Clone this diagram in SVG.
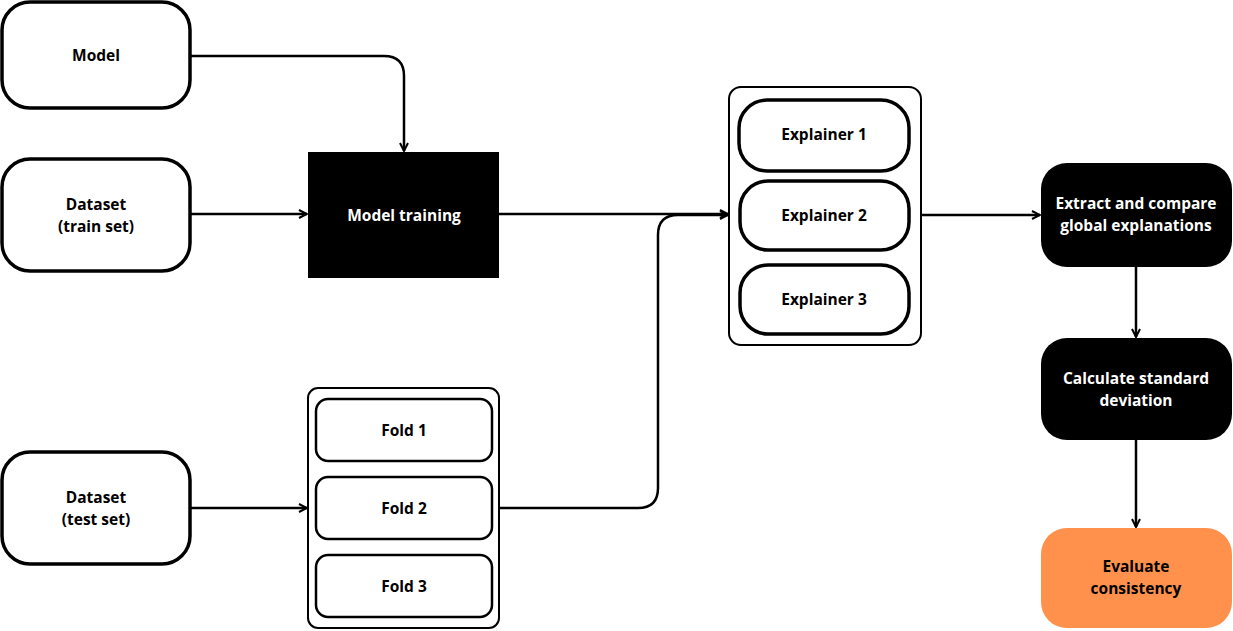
<svg xmlns="http://www.w3.org/2000/svg" width="1233" height="631" viewBox="0 0 1233 631">
<defs>
<marker id="arr" viewBox="0 0 10 10" refX="9" refY="5" markerWidth="10" markerHeight="10" markerUnits="userSpaceOnUse" orient="auto">
<path d="M1,1 L9,5 L1,9" fill="none" stroke="#000" stroke-width="2"/>
</marker>
<style>
.t{font-family:"Open Sans","Liberation Sans",sans-serif;font-weight:700;font-size:15.5px;text-anchor:middle;fill:#000}
.w{fill:#fff}
.box{fill:#fff;stroke:#000;stroke-width:3.5}
.cont{fill:#fff;stroke:#000;stroke-width:2}
.inner{fill:#fff;stroke:#000;stroke-width:2.5}
.c{fill:none;stroke:#000;stroke-width:2.5}
</style>
</defs>
<rect width="1233" height="631" fill="#fff"/>
<g id="connectors">
<path class="c" d="M190,56 H384 Q404,56 404,76 V151" marker-end="url(#arr)"/>
<path class="c" d="M190,214 H307" marker-end="url(#arr)"/>
<path class="c" d="M499,214 H728" marker-end="url(#arr)"/>
<path class="c" d="M190,508 H307" marker-end="url(#arr)"/>
<path class="c" d="M499,508 H638 Q658,508 658,488 V235 Q658,215 678,215 H728" marker-end="url(#arr)"/>
<path class="c" d="M921,215 H1040" marker-end="url(#arr)"/>
<path class="c" d="M1136,267 V337" marker-end="url(#arr)"/>
<path class="c" d="M1136,440 V527" marker-end="url(#arr)"/>
</g>
<g id="model"><rect class="box" x="2" y="2" width="188" height="106" rx="28"/><text class="t" x="96" y="61">Model</text></g>
<g id="train"><rect class="box" x="2" y="159" width="188" height="112" rx="28"/><text class="t" x="96" y="210">Dataset</text><text class="t" x="96" y="232">(train set)</text></g>
<g id="test"><rect class="box" x="2" y="452" width="188" height="112" rx="28"/><text class="t" x="96" y="503">Dataset</text><text class="t" x="96" y="525">(test set)</text></g>
<g id="training"><rect x="308" y="152" width="191" height="126" fill="#000"/><text class="t w" x="404" y="221">Model training</text></g>
<g id="folds"><rect class="cont" x="308" y="388" width="191" height="240" rx="10"/>
<rect class="inner" x="316" y="399" width="176" height="62" rx="12"/><text class="t" x="404" y="436">Fold 1</text>
<rect class="inner" x="316" y="477" width="176" height="62" rx="12"/><text class="t" x="404" y="514">Fold 2</text>
<rect class="inner" x="316" y="555" width="176" height="62" rx="12"/><text class="t" x="404" y="592">Fold 3</text>
</g>
<g id="explainers"><rect class="cont" x="729" y="87" width="192" height="258" rx="12"/>
<rect class="box" x="739" y="100" width="170" height="71" rx="28"/><text class="t" x="824" y="140">Explainer 1</text>
<rect class="box" x="740" y="181" width="169" height="69" rx="28"/><text class="t" x="824" y="221">Explainer 2</text>
<rect class="box" x="740" y="265" width="169" height="69" rx="28"/><text class="t" x="824" y="305">Explainer 3</text>
</g>
<g id="extract"><rect x="1041" y="163" width="191" height="104" rx="26" fill="#000"/><text class="t w" x="1136" y="209">Extract and compare</text><text class="t w" x="1136" y="231">global explanations</text></g>
<g id="calc"><rect x="1041" y="338" width="191" height="102" rx="26" fill="#000"/><text class="t w" x="1136" y="384">Calculate standard</text><text class="t w" x="1136" y="406">deviation</text></g>
<g id="eval"><rect x="1041" y="528" width="191" height="100" rx="26" fill="#FF914D"/><text class="t" x="1136" y="572">Evaluate</text><text class="t" x="1136" y="594">consistency</text></g>
</svg>
